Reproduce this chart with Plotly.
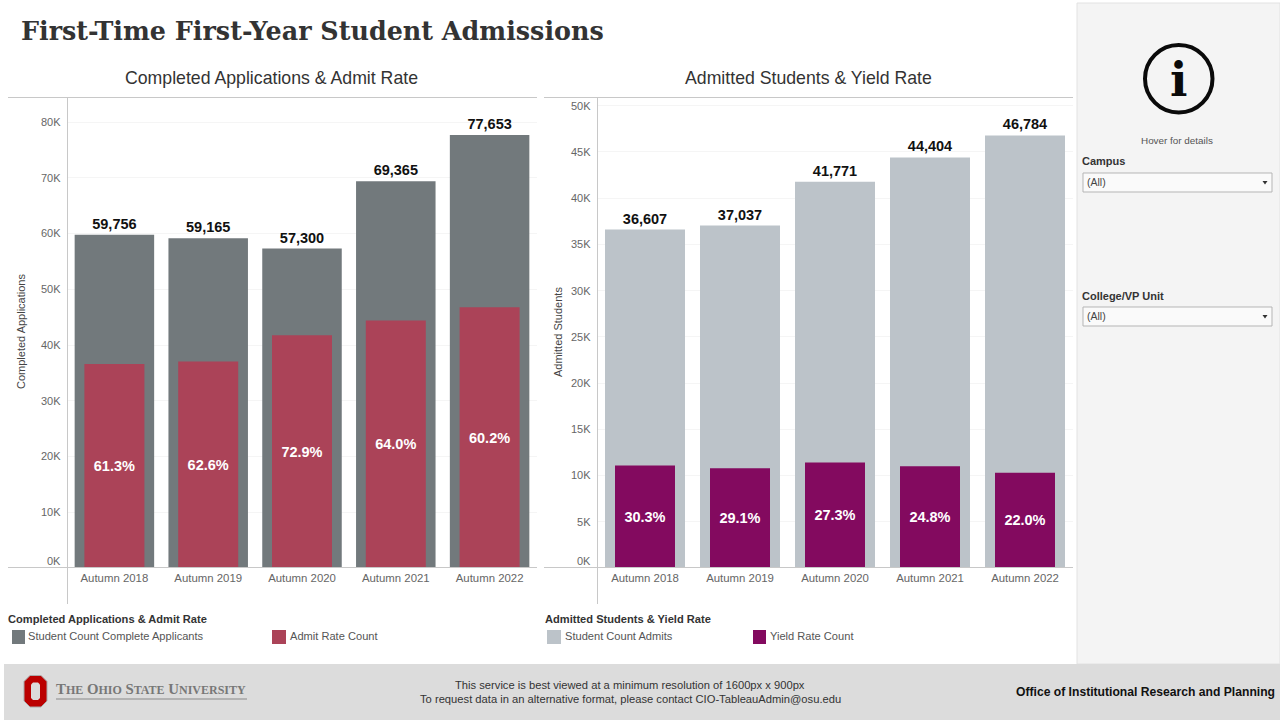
import plotly.graph_objects as go

terms = ["Autumn 2018", "Autumn 2019", "Autumn 2020", "Autumn 2021", "Autumn 2022"]
complete_applicants = [59756, 59165, 57300, 69365, 77653]
admitted = [36607, 37037, 41771, 44404, 46784]
admit_rate_labels = ["61.3%", "62.6%", "72.9%", "64.0%", "60.2%"]
yield_count = [11092, 10778, 11403, 11012, 10292]
yield_rate_labels = ["30.3%", "29.1%", "27.3%", "24.8%", "22.0%"]
left_ticks = [10000, 20000, 30000, 40000, 50000, 60000, 70000, 80000]
left_tick_labels = ["10K", "20K", "30K", "40K", "50K", "60K", "70K", "80K"]
right_ticks = [5000, 10000, 15000, 20000, 25000, 30000, 35000, 40000, 45000, 50000]
right_tick_labels = ["5K", "10K", "15K", "20K", "25K", "30K", "35K", "40K", "45K", "50K"]

SANS = "Liberation Sans, Arial, sans-serif"
GREY, RED, LIGHT, PURPLE = "#72797c", "#ab4358", "#bcc3c9", "#830a5f"
W, H = 1280, 720
px = lambda x: x / W
py = lambda y: 1 - y / H

fig = go.Figure()


def add(xa, ya, outer, outer_name, outer_color, inner, inner_name, inner_color, labels, outer_w, inner_w):
    fig.add_bar(x=terms, y=outer, name=outer_name, marker=dict(color=outer_color, line=dict(width=0)), width=outer_w,
                xaxis=xa, yaxis=ya, text=["<b>%s</b>" % f"{v:,}" for v in outer], textposition="outside",
                textangle=0, cliponaxis=False, constraintext="none",
                textfont=dict(family=SANS, size=14.5, color="#111111"), showlegend=False)
    fig.add_bar(x=terms, y=inner, name=inner_name, marker=dict(color=inner_color, line=dict(width=0)), width=inner_w,
                xaxis=xa, yaxis=ya, text=["<b>%s</b>" % s for s in labels], textposition="inside",
                insidetextanchor="middle", textangle=0, constraintext="none",
                textfont=dict(family=SANS, size=14.5, color="white"), showlegend=False)


add("x", "y", complete_applicants, "Student Count Complete Applicants", GREY,
    admitted, "Admit Rate Count", RED, admit_rate_labels, 79.5 / 93.8, 60 / 93.8)
add("x2", "y2", admitted, "Student Count Admits", LIGHT,
    yield_count, "Yield Rate Count", PURPLE, yield_rate_labels, 80 / 95, 60 / 95)

shapes, annos = [], []


def rect(x0, y0, x1, y1, fill, line=None, lw=1):
    shapes.append(dict(type="rect", xref="paper", yref="paper", x0=px(x0), x1=px(x1), y0=py(y1), y1=py(y0),
                       fillcolor=fill, line=dict(color=line or fill, width=lw if line else 0), layer="below"))


def seg(x0, y0, x1, y1, color="#c8c8c8", lw=1, layer="above"):
    shapes.append(dict(type="line", xref="paper", yref="paper", x0=px(x0), x1=px(x1), y0=py(y0), y1=py(y1),
                       line=dict(color=color, width=lw), layer=layer))


def text(x, y, s, size=11.1, color="#555555", anchor="left", family=SANS, angle=0):
    annos.append(dict(xref="paper", yref="paper", x=px(x), y=py(y), text=s, showarrow=False, xanchor=anchor,
                      yanchor="middle", font=dict(family=family, size=size, color=color), textangle=angle,
                      align=anchor, borderpad=0))


# panels
rect(1077, 3, 1280, 664, "#f4f4f4", "#e2e2e2")
rect(4, 664, 1280, 720, "#dcdcdc")

# title
text(20, 31, "<b>First-Time First-Year Student Admissions</b>", 25.4, "#333333", family="DejaVu Serif, serif")

# chart titles
text(271.5, 78, "Completed Applications & Admit Rate", 17.7, "#333333", "center")
text(808, 78, "Admitted Students & Yield Rate", 17.7, "#333333", "center")

# chart frames
for x_left, x_axis, x_right in [(8, 67.5, 537), (544, 597.5, 1073)]:
    seg(x_left, 97.5, x_right, 97.5)
    seg(x_left, 567.5, x_right, 567.5)
    seg(x_axis, 97.5, x_axis, 604)

# axis titles and baseline tick labels
text(21, 332, "Completed Applications", 11, "#444444", "center", angle=-90)
text(558, 332, "Admitted Students", 11, "#444444", "center", angle=-90)
text(62, 561, "0K", 11, "#666666", "right")
text(592, 561, "0K", 11, "#666666", "right")

# legends
text(7, 619, "<b>Completed Applications & Admit Rate</b>", 11.1, "#333333")
rect(12, 630, 25, 644, GREY)
text(27, 636, "Student Count Complete Applicants")
rect(272, 630, 286, 644, RED)
text(289, 636, "Admit Rate Count")
text(544, 619, "<b>Admitted Students & Yield Rate</b>", 11.1, "#333333")
rect(547, 630, 561, 644, LIGHT)
text(564, 636, "Student Count Admits")
rect(753, 630, 766, 644, PURPLE)
text(769, 636, "Yield Rate Count")

# sidebar
shapes.append(dict(type="circle", xref="paper", yref="paper", x0=px(1145), x1=px(1212.5), y0=py(112.5), y1=py(45),
                   line=dict(color="#0a0a0a", width=4), fillcolor="rgba(0,0,0,0)"))
text(1178, 80, "<b>i</b>", 46, "#0a0a0a", "center", "DejaVu Serif, serif")
text(1177, 141, "Hover for details", 9.9, "#555555", "center")
for label, ly, y0, y1 in [("Campus", 161, 173, 192), ("College/VP Unit", 296, 307, 326)]:
    text(1081, ly, "<b>%s</b>" % label, 11, "#333333")
    rect(1083, y0, 1272, y1, "#fafafa", "#b5b5b5")
    cy = (y0 + y1) / 2
    text(1086, cy - 0.5, "(All)", 10.5, "#444444")
    shapes.append(dict(type="path", xref="paper", yref="paper", fillcolor="#333333", line=dict(width=0),
                       path=f"M {px(1262.5)} {py(cy-1.5)} L {px(1267.5)} {py(cy-1.5)} L {px(1265)} {py(cy+2)} Z"))


def rounded(x0, y0, x1, y1, r):
    pts = [(x0 + r, y0), (x1 - r, y0), (x1, y0 + r), (x1, y1 - r), (x1 - r, y1), (x0 + r, y1), (x0, y1 - r), (x0, y0 + r)]
    return "M " + " L ".join(f"{px(a)} {py(b)}" for a, b in pts) + " Z"


# footer logo and text
shapes.append(dict(type="path", xref="paper", yref="paper", path=rounded(24, 675.5, 47, 707, 6),
                   fillcolor="#bb0000", line=dict(color="#a9a9a9", width=1)))
shapes.append(dict(type="path", xref="paper", yref="paper", path=rounded(31, 682.5, 40, 700, 2),
                   fillcolor="#dcdcdc", line=dict(width=0)))
small = lambda s: "<span style='font-size:12px'>%s</span>" % s
text(55, 689, "<b>T" + small("HE") + " O" + small("HIO") + " S" + small("TATE") + " U" + small("NIVERSITY") + "</b>",
     14.8, "#777777", family="Liberation Serif, serif")
seg(56, 699, 247, 699, "#888888", 1)
text(630, 685, "This service is best viewed at a minimum resolution of 1600px x 900px", 11.2, "#333333", "center")
text(630, 699, "To request data in an alternative format, please contact CIO-TableauAdmin@osu.edu", 11.2, "#333333", "center")
text(1275.5, 692, "<b>Office of Institutional Research and Planning</b>", 12.15, "#111111", "right")

axis_common = dict(showgrid=False, zeroline=False, showline=False, ticks="",
                   tickfont=dict(family=SANS, size=11.4, color="#666666"))
y_common = dict(showgrid=True, gridcolor="#f5f5f5", gridwidth=1, zeroline=False, showline=False, ticks="",
                tickfont=dict(family=SANS, size=11, color="#666666"), ticklabelstandoff=6)

fig.update_layout(
    width=W, height=H, margin=dict(l=0, r=0, t=0, b=0), autosize=False,
    paper_bgcolor="white", plot_bgcolor="white", barmode="overlay", showlegend=False,
    font=dict(family=SANS), shapes=shapes, annotations=annos,
    xaxis=dict(domain=[px(67.5), px(536.5)], range=[-0.5, 4.5], anchor="y", categoryorder="array",
               categoryarray=terms, ticklabelstandoff=2, **axis_common),
    yaxis=dict(domain=[py(568), py(97)], range=[0, 84484], anchor="x", tickvals=left_ticks,
               ticktext=left_tick_labels, **y_common),
    xaxis2=dict(domain=[px(597.5), px(1072.5)], range=[-0.5, 4.5], anchor="y2", categoryorder="array",
                categoryarray=terms, ticklabelstandoff=2, **axis_common),
    yaxis2=dict(domain=[py(568), py(97)], range=[0, 50946], anchor="x2", tickvals=right_ticks,
                ticktext=right_tick_labels, **y_common),
)

fig.write_html("out.html", config=dict(displayModeBar=False),
               post_script="document.body.style.margin='0';document.body.style.overflow='hidden';")
